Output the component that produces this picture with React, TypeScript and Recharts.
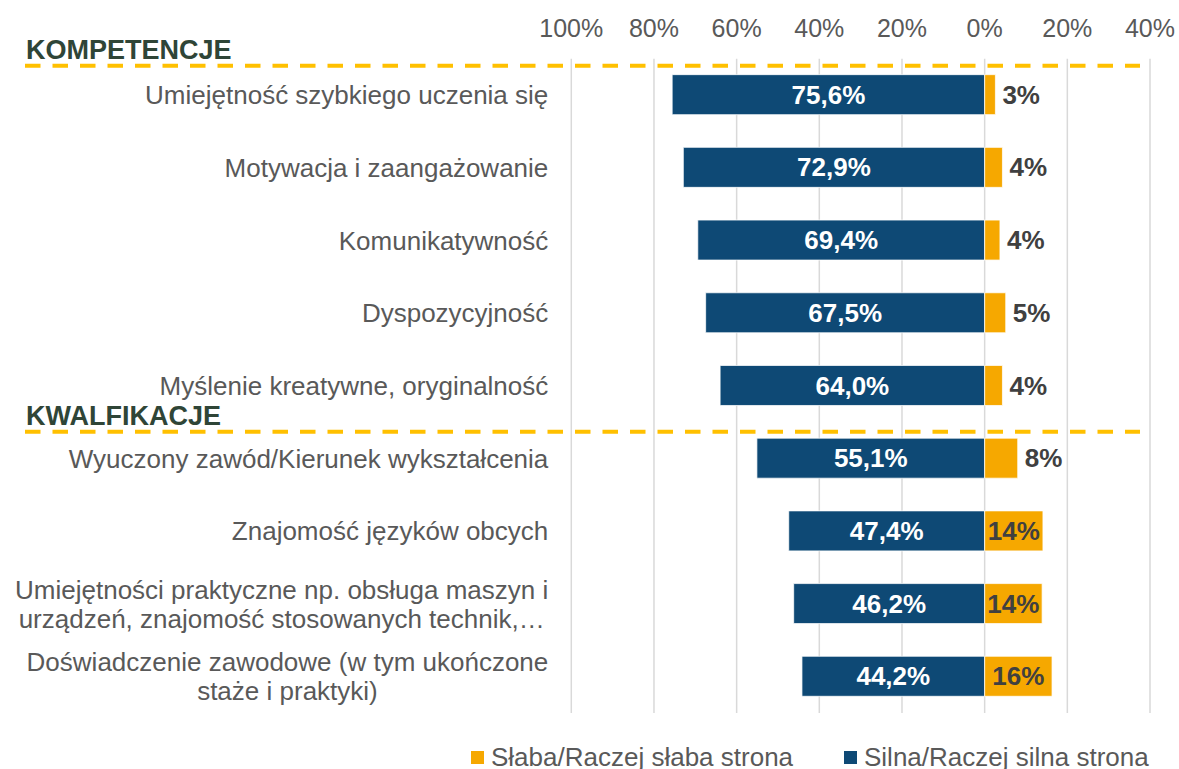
import { BarChart, Bar, XAxis, YAxis, CartesianGrid, Legend, LabelList } from "recharts";

const categories = [
  "Umiejętność szybkiego uczenia się",
  "Motywacja i zaangażowanie",
  "Komunikatywność",
  "Dyspozycyjność",
  "Myślenie kreatywne, oryginalność",
  "Wyuczony zawód/Kierunek wykształcenia",
  "Znajomość języków obcych",
  "Umiejętności praktyczne np. obsługa maszyn i\nurządzeń, znajomość stosowanych technik,…",
  "Doświadczenie zawodowe (w tym ukończone\nstaże i praktyki)",
];
const silnaValues = [75.6, 72.9, 69.4, 67.5, 64.0, 55.1, 47.4, 46.2, 44.2];
const slabaValues = [2.6, 4.3, 3.7, 5.1, 4.3, 8.0, 14.1, 13.9, 16.3];
const xTicks = [-100, -80, -60, -40, -20, 0, 20, 40];
const sections = ["KOMPETENCJE", "KWALFIKACJE"];
const legendNames = ["Słaba/Raczej słaba strona", "Silna/Raczej silna strona"];

const NAVY = "#0E4975";
const ORANGE = "#F6A800";
const FONT = "'Liberation Sans', Arial, sans-serif";

const data = categories.map((name, i) => ({
  name,
  silna: -silnaValues[i],
  slaba: slabaValues[i],
}));

let ctx: CanvasRenderingContext2D | null = null;
function textWidth(s: string) {
  if (!ctx) ctx = document.createElement("canvas").getContext("2d");
  if (!ctx) return s.length * 12;
  ctx.font = `26px ${FONT}`;
  return ctx.measureText(s).width;
}

function CategoryTick({ x, y, payload }: any) {
  const lines = String(payload.value).split("\n");
  const common = { fill: "#595959", fontSize: 26, fontFamily: FONT };
  if (lines.length === 1) {
    return (
      <text x={x} y={y} dy="0.35em" textAnchor="end" {...common}>
        {lines[0]}
      </text>
    );
  }
  const w = Math.max(...lines.map(textWidth));
  const cx = x - w / 2;
  const lh = 29;
  return (
    <text textAnchor="middle" {...common}>
      {lines.map((l, i) => (
        <tspan key={i} x={cx} y={y + (i - (lines.length - 1) / 2) * lh} dy="0.35em">
          {l}
        </tspan>
      ))}
    </text>
  );
}

function SilnaLabel({ x, y, width, height, value }: any) {
  const txt = Math.abs(value).toFixed(1).replace(".", ",") + "%";
  return (
    <text x={x + width / 2} y={y + height / 2} dy="0.35em" textAnchor="middle"
      fill="#fff" fontWeight="bold" fontSize={26} fontFamily={FONT}>
      {txt}
    </text>
  );
}

function SlabaLabel({ x, y, width, height, value }: any) {
  const inside = value >= 10;
  return (
    <text x={inside ? x + width / 2 : x + width + 7} y={y + height / 2} dy="0.35em"
      textAnchor={inside ? "middle" : "start"}
      fill="#404040" fontWeight="bold" fontSize={26} fontFamily={FONT}>
      {Math.round(value) + "%"}
    </text>
  );
}

function LegendBox() {
  const items = [
    { name: legendNames[0], color: ORANGE, left: 471 },
    { name: legendNames[1], color: NAVY, left: 844 },
  ];
  return (
    <div style={{ position: "relative", height: 56, width: 1179 }}>
      {items.map((it) => (
        <div key={it.name} style={{
          position: "absolute", left: it.left, top: 31, height: 26, lineHeight: "26px",
          display: "flex", alignItems: "center", fontFamily: FONT, fontSize: 26, color: "#595959",
          whiteSpace: "nowrap",
        }}>
          <span style={{ display: "inline-block", width: 13, height: 13, background: it.color, marginRight: 7 }} />
          {it.name}
        </div>
      ))}
    </div>
  );
}

export default function App() {
  return (
    <div style={{ position: "absolute", left: 0, top: 0, width: 1179, height: 769, background: "#fff" }}>
      <BarChart width={1179} height={769} data={data} layout="vertical" stackOffset="sign"
        margin={{ top: 0, right: 29, bottom: 0, left: 0 }}>
        <CartesianGrid horizontal={false} stroke="#D9D9D9" strokeWidth={1.5} />
        <XAxis type="number" domain={[-100, 40]} ticks={xTicks} interval={0}
          tickFormatter={(v: number) => `${Math.abs(v)}%`}
          orientation="top" height={58.65} axisLine={false} tickLine={false}
          tickSize={0} tickMargin={22}
          tick={{ fill: "#595959", fontSize: 25, fontFamily: FONT }} />
        <YAxis type="category" dataKey="name" width={571.3} interval={0}
          axisLine={false} tickLine={false} tickSize={0} tickMargin={23}
          tick={(p: any) => <CategoryTick {...p} />} />
        <Legend verticalAlign="bottom" height={56}
          wrapperStyle={{ left: 0, bottom: 0, width: 1179 }}
          content={() => <LegendBox />} />
        <Bar dataKey="silna" stackId="s" fill={NAVY} barSize={40} stroke="#fff" strokeWidth={0.75}
          isAnimationActive={false}>
          <LabelList dataKey="silna" content={SilnaLabel} />
        </Bar>
        <Bar dataKey="slaba" stackId="s" fill={ORANGE} barSize={40} stroke="#fff" strokeWidth={0.75}
          isAnimationActive={false}>
          <LabelList dataKey="slaba" content={SlabaLabel} />
        </Bar>
      </BarChart>
      <svg width={1179} height={769} style={{ position: "absolute", left: 0, top: 0, pointerEvents: "none" }}>
        {[65.7, 431.7].map((ly, i) => (
          <g key={i}>
            <line x1={25} x2={1140} y1={ly} y2={ly} stroke="#FFC000" strokeWidth={4} strokeDasharray="15.5 12" />
            <text x={26} y={ly - 6.4} fill="#2F4537" fontWeight="bold" fontSize={27} fontFamily={FONT}>
              {sections[i]}
            </text>
          </g>
        ))}
      </svg>
    </div>
  );
}
